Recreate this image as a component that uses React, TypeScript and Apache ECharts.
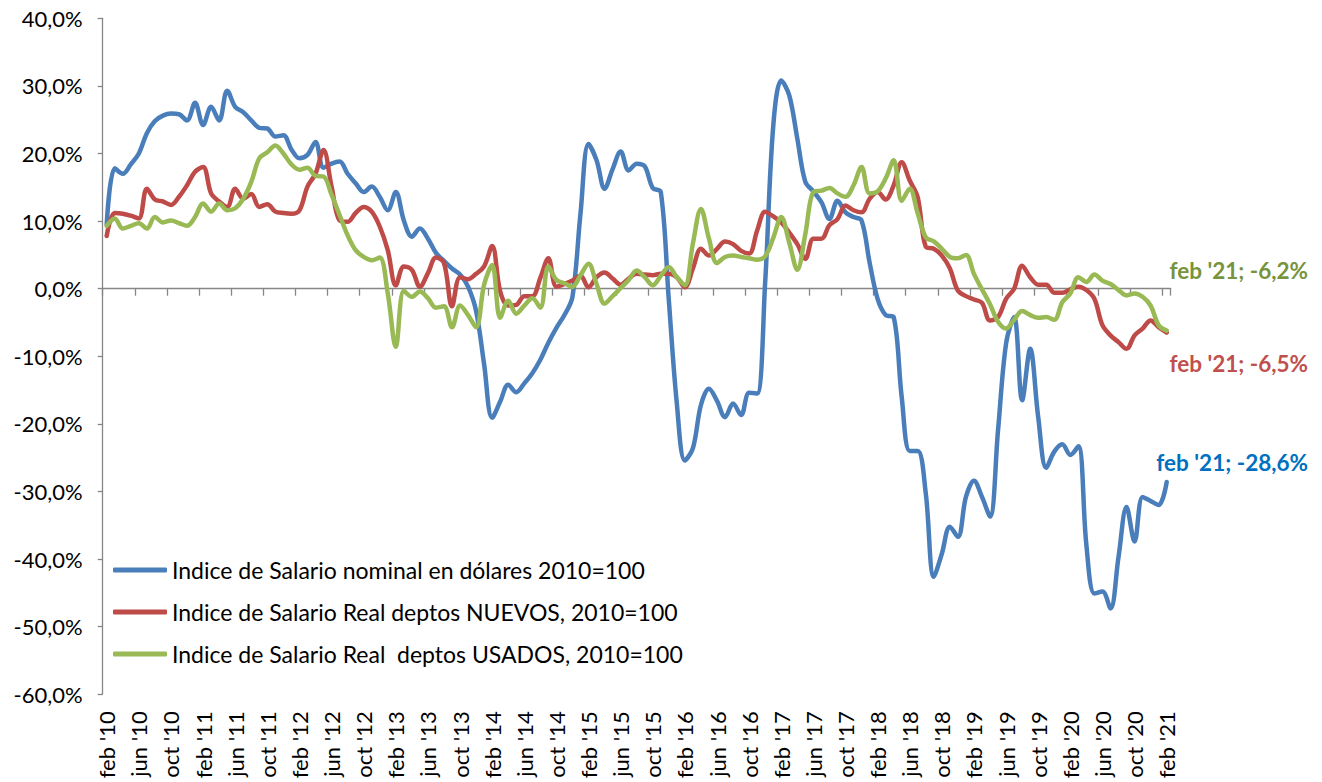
import React, { useEffect, useRef } from "react";
import * as echarts from "echarts";

// Month abbreviations (Spanish) used to build the monthly category axis feb '10 .. feb '21
const MONTHS = ["ene", "feb", "mar", "abr", "may", "jun", "jul", "ago", "sep", "oct", "nov", "dic"];
const N_MONTHS = 133;
const categories: string[] = [];
for (let k = 0; k < N_MONTHS; k++) {
  const m = (1 + k) % 12;
  const y = 10 + Math.floor((1 + k) / 12);
  categories.push(`${MONTHS[m]} '${String(y).padStart(2, "0")}`);
}

const seriesNames = [
  "Indice de Salario nominal en dólares 2010=100",
  "Indice de Salario Real deptos NUEVOS, 2010=100",
  "Indice de Salario Real  deptos USADOS, 2010=100",
];

// Indice de Salario nominal en dólares (% var.)
const nominalUSD = [
  9.5, 17.8, 17.0, 18.4, 20.0, 23.0, 24.8, 25.6, 25.9, 25.8,
  24.9, 27.5, 24.2, 26.9, 24.9, 29.3, 26.9, 26.1, 24.9, 23.8,
  23.7, 22.5, 22.7, 20.6, 19.3, 19.8, 21.7, 17.9, 18.5, 18.8,
  17.0, 15.6, 14.3, 15.1, 13.6, 11.6, 14.3, 10.1, 7.7, 8.9,
  7.4, 5.3, 4.1, 3.0, 2.1, 0.3, -3.3, -11.2, -19.1, -16.7,
  -14.2, -15.3, -14.0, -12.5, -10.5, -8.0, -5.8, -3.9, -1.2, 11.1,
  21.4, 19.0, 14.8, 17.7, 20.3, 17.5, 18.5, 18.1, 14.9, 14.3,
  -1.7, -17.0, -25.4, -23.6, -17.2, -14.8, -16.6, -19.0, -17.0, -18.7,
  -15.4, -15.5, 1.0, 24.0, 30.8, 28.6, 22.2, 15.8, 14.4, 12.8,
  10.3, 13.0, 11.3, 10.6, 10.1, 3.9, -1.5, -3.9, -4.2, -16.0,
  -24.0, -24.0, -30.3, -42.6, -39.2, -35.2, -36.7, -30.8, -28.4, -30.8,
  -33.7, -20.9, -8.1, -4.2, -16.5, -8.9, -19.0, -26.5, -24.1, -23.0,
  -24.6, -23.3, -37.9, -45.1, -44.8, -47.3, -39.7, -32.3, -37.4, -30.8,
  -31.4, -32.0, -28.6,
];

// Indice de Salario Real deptos NUEVOS (% var.)
const realNuevos = [
  7.8, 11.2, 11.1, 10.8, 10.4, 14.8, 13.2, 12.9, 12.4, 13.6,
  15.3, 17.3, 18.0, 14.1, 12.9, 12.1, 14.8, 13.3, 14.0, 12.1,
  12.5, 11.4, 11.2, 11.1, 11.6, 15.1, 17.0, 20.5, 15.1, 10.1,
  9.9, 11.2, 12.1, 11.4, 9.2, 5.7, 0.5, 3.3, 2.8, 0.3,
  2.3, 4.6, 3.8, -2.6, 1.7, 1.4, 2.2, 3.3, 6.3, -0.4,
  -2.5, -2.4, -1.1, -1.1, 1.6, 4.5, 0.3, 0.7, 1.2, 1.9,
  0.2, 1.7, 2.4, 1.5, 0.6, 1.5, 2.2, 2.1, 2.0, 2.2,
  2.2, 1.7, 0.2, 3.0, 5.9, 4.9, 5.9, 7.0, 6.6, 5.6,
  5.2, 8.6, 11.4, 10.7, 9.8, 8.3, 6.6, 4.4, 7.4, 7.4,
  9.4, 10.3, 12.3, 11.6, 11.3, 13.3, 14.3, 13.2, 15.3, 18.7,
  16.0, 13.5, 6.2, 5.9, 4.9, 3.0, -0.3, -1.1, -1.6, -2.1,
  -4.7, -4.2, -1.5, 0.0, 3.4, 1.7, 0.6, 0.6, -0.6, -0.6,
  -0.1, 0.3, -0.2, -1.5, -5.4, -6.9, -7.9, -8.9, -6.9, -5.9,
  -4.7, -5.7, -6.5,
];

// Indice de Salario Real deptos USADOS (% var.)
const realUsados = [
  9.3, 10.4, 8.9, 9.3, 9.7, 8.9, 10.6, 9.8, 10.1, 9.7,
  9.3, 10.6, 12.6, 11.4, 12.6, 11.6, 11.9, 13.3, 15.8, 19.3,
  20.2, 21.2, 20.0, 18.4, 17.6, 17.9, 16.7, 16.6, 13.9, 10.9,
  7.9, 5.7, 4.7, 4.2, 4.6, -0.7, -8.6, -0.3, -1.2, -0.4,
  -1.4, -2.8, -2.6, -5.7, -2.5, -3.9, -5.7, 0.6, 3.5, -4.3,
  -1.8, -3.7, -2.5, -1.4, -2.8, 3.3, 1.3, 0.8, 0.3, 2.0,
  3.7, 0.7, -2.2, -1.1, 0.1, 1.3, 2.7, 1.7, 0.5, 1.9,
  3.2, 1.7, 0.5, 6.7, 11.8, 7.4, 3.8, 4.7, 4.9, 4.7,
  4.5, 4.3, 4.8, 7.5, 10.6, 6.8, 2.8, 8.1, 14.3, 14.5,
  14.9, 14.1, 13.6, 15.3, 18.0, 14.1, 14.4, 16.3, 19.0, 13.0,
  14.8, 11.1, 7.6, 7.0, 5.9, 4.7, 4.5, 5.0, 2.2, -0.1,
  -2.3, -4.9, -5.9, -4.6, -3.3, -3.9, -4.3, -4.2, -4.6, -2.0,
  -0.7, 1.7, 1.0, 2.1, 1.2, 0.7, -0.2, -1.0, -0.7, -1.2,
  -2.5, -5.4, -6.2,
];

const Y_MIN = -60;
const Y_MAX = 40;
const Y_STEP = 10;

const FONT = "Lato, 'Noto Sans', sans-serif";
const AXIS_GREY = "#868686";
const LINE_COLORS = ["#4A7EBB", "#BE4B48", "#98B954"];
const LABEL_COLORS = ["#0070C0", "#C0504D", "#77933C"];

const pct = (v: number) => v.toFixed(1).replace(".", ",") + "%";

export default function App() {
  const ref = useRef<HTMLDivElement>(null);

  useEffect(() => {
    document.body.style.margin = "0";
    if (!ref.current) return;
    const chart = echarts.init(ref.current, null, { renderer: "svg" });

    const datasets = [nominalUSD, realNuevos, realUsados];
    const lastCat = categories[categories.length - 1];

    const series = datasets.map((d, k) => ({
      name: seriesNames[k],
      type: "line",
      data: d,
      smooth: 0.35,
      showSymbol: false,
      symbol: "none",
      lineStyle: { color: LINE_COLORS[k], width: 4.5, cap: "round", join: "round" },
      itemStyle: { color: LINE_COLORS[k] },
      xAxisIndex: 0,
      yAxisIndex: 0,
      z: 2 + k,
    }));

    const endLabelY = [462, 363, 270];
    const graphic = datasets.map((d, k) => ({
      type: "text",
      x: 1308,
      y: endLabelY[k],
      style: {
        text: `${lastCat}; ${pct(d[d.length - 1])}`,
        fill: LABEL_COLORS[k],
        font: `bold 22.5px ${FONT}`,
        align: "right",
        verticalAlign: "middle",
      },
    }));

    chart.setOption({
      animation: false,
      backgroundColor: "#ffffff",
      textStyle: { fontFamily: FONT },
      grid: {
        left: 102.7,
        right: 151.3,
        top: 18.3,
        bottom: 87.7,
        outerBoundsMode: "none",
      },
      legend: {
        orient: "vertical",
        left: 113,
        top: 557,
        padding: 0,
        itemWidth: 54,
        itemHeight: 5,
        itemGap: 16,
        icon: "roundRect",
        textStyle: { fontSize: 23, lineHeight: 26, color: "#000", fontFamily: FONT },
        data: seriesNames,
      },
      xAxis: [
        {
          type: "category",
          data: categories,
          boundaryGap: true,
          position: "bottom",
          axisLine: { show: false, onZero: false },
          axisTick: { show: false },
          axisLabel: {
            interval: 3,
            rotate: 90,
            margin: 17,
            fontSize: 22,
            color: "#000",
            fontFamily: FONT,
          },
          splitLine: { show: false },
        },
        {
          type: "category",
          data: categories,
          boundaryGap: true,
          position: "bottom",
          axisLine: { show: true, onZero: true, lineStyle: { color: AXIS_GREY, width: 1.3 } },
          axisTick: { show: true, interval: 3, length: 7, lineStyle: { color: AXIS_GREY, width: 1.3 } },
          axisLabel: { show: false },
          splitLine: { show: false },
        },
      ],
      yAxis: {
        type: "value",
        min: Y_MIN,
        max: Y_MAX,
        interval: Y_STEP,
        axisLine: { show: true, lineStyle: { color: AXIS_GREY, width: 1.3 } },
        axisTick: { show: true, length: 5, lineStyle: { color: AXIS_GREY, width: 1.3 } },
        axisLabel: {
          formatter: (v: number) => pct(v),
          margin: 20,
          fontSize: 22,
          color: "#000",
          fontFamily: FONT,
        },
        splitLine: { show: false },
      },
      series,
      graphic,
    });

    return () => chart.dispose();
  }, []);

  return <div ref={ref} style={{ width: 1322, height: 782 }} />;
}
